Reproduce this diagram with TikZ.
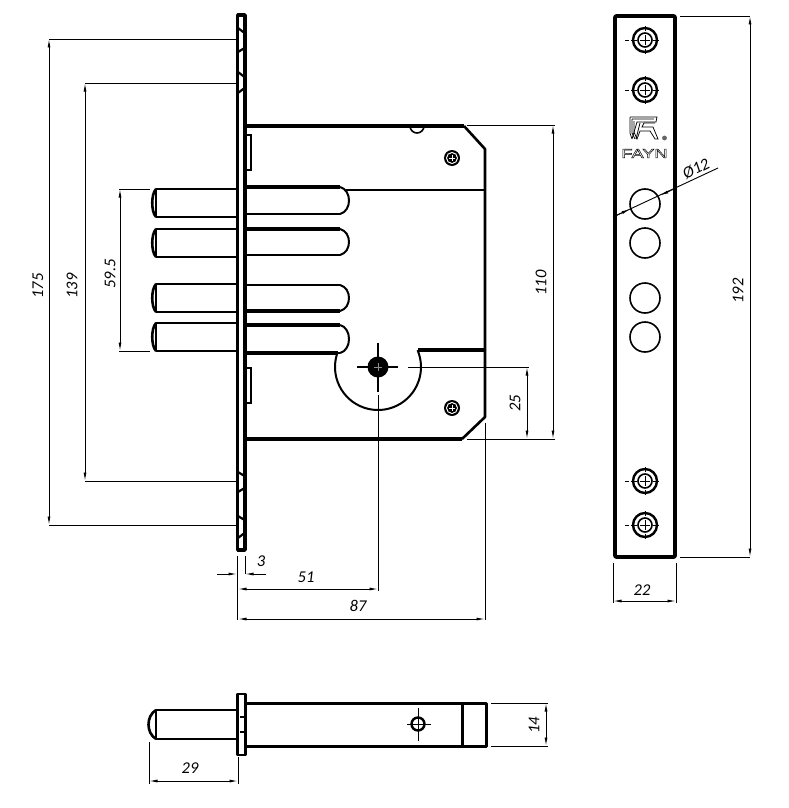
\documentclass[tikz,border=0pt]{standalone}
\usepackage{fontspec}
\setmainfont{Carlito}
\newfontfamily\brandfont[FakeStretch=1.4]{Liberation Sans}
\usetikzlibrary{arrows.meta}

\tikzstyle{heavy}=[line width=3.6pt, line join=round]
\tikzstyle{medium}=[line width=2.6pt, line join=round]
\tikzstyle{light}=[line width=1.6pt]
\tikzstyle{thinline}=[line width=0.9pt]
\tikzstyle{dim}=[thinline, <->]
\tikzstyle{value}=[font=\fontsize{16.5}{18}\selectfont\itshape, inner sep=0pt]

\begin{document}
\begin{tikzpicture}[x=1pt,y=-1pt,>={Latex[length=8.5pt,width=3pt]}]
\useasboundingbox (0,0) rectangle (788,808);

% Faceplate, side view
\draw[medium, line width=3.4pt] (237.7,15) rectangle (245,550);
\foreach \a/\b/\c/\d in {28/33/48/52, 72/77/88/93, 472/476/488/492, 516/520/533/538} {
  \draw[line width=2.2pt] (238,\a) -- (244.5,\b) -- (244.5,\c) -- (238,\d);
}

% Lock case
\draw[heavy] (246,126) -- (464,126);
\draw[medium] (464,126) -- (485,149) -- (485,417) -- (462,439);
\draw[heavy] (462,439) -- (246,439);
\draw[medium] (346,190) -- (485,190);
\draw[heavy] (246,353) -- (338,353);
\draw[heavy] (418,350) -- (485,350);
\draw[light, line width=2pt] (378,367) +(199:43) arc[start angle=199, end angle=-23, radius=43];
\draw[light] (410,126) arc[start angle=180, end angle=0, radius=7];

% Latches
\foreach \a/\b in {135/170, 368/403} {
  \draw[light] (246,\a) -- (251,\a) -- (251,\b) -- (246,\b);
}

% Bolts
\foreach \a/\b/\c/\d in {189/217/187/214, 229/257/229/255, 284/312/285/311, 323/351/325/353} {
  \draw[medium] (237,\a) -- (156,\a) -- (156,\b) -- (237,\b);
  \draw[medium] (156,\a) .. controls (151,\a+5) and (151,\b-5) .. (156,\b);
  \draw[medium] (246,\c) -- (340,\c);
  \draw[medium] (246,\d) -- (340,\d);
  \draw[light, line width=2pt] (340,\c) .. controls (352,\c+3) and (352,\d-3) .. (340,\d);
}
\draw[heavy] (246,187) -- (340,187);
\draw[heavy] (246,229) -- (340,229);
\draw[heavy] (246,311) -- (340,311);
\draw[heavy] (246,325) -- (340,325);

% Case screws
\foreach \x/\y in {452/158, 452/408} {
  \fill[black] (\x,\y) circle (8);
  \draw[white, line width=1pt] (\x,\y) circle (5.5);
  \fill[black] (\x,\y) circle (4.5);
  \draw[white, line width=0.7pt] (\x-3,\y) -- (\x+3,\y) (\x,\y-3) -- (\x,\y+3);
}

% Cylinder hole
\fill[black] (378,367) circle (10.5);
\draw[medium, line width=1.8pt] (357,367) -- (398,367);
\draw[medium, line width=1.8pt] (378,343) -- (378,392);
\draw[black!45, line width=0.7pt] (374,367) -- (382,367) (378,363) -- (378,371);

% Front plate
\draw[heavy, rounded corners=1pt] (615,16) rectangle (675,557);
\foreach \y in {40, 90, 481, 525} {
  \draw[line width=2.4pt] (645,\y) circle (12);
  \draw[line width=1.6pt] (645,\y) circle (7);
  \draw[line width=0.7pt] (640,\y) -- (650,\y) (645,\y-5) -- (645,\y+5);
  \draw[line width=0.8pt] (625,\y) -- (629,\y) (631,\y) -- (637,\y) (653,\y) -- (659,\y) (645,\y-14) -- (645,\y-9) (645,\y+9) -- (645,\y+14);
}
\foreach \y in {204, 243, 298, 337} {
  \draw[light] (645,\y) circle (15);
}

% Logo
\begin{scope}[line width=0.75pt]
  \draw (630,117) -- (657,117) -- (656,122) -- (637,122) -- (632,139) (630,117) -- (630,133) -- (632,139);
  \draw (632,119) -- (654,119) (632,119) -- (632,133) -- (635,139);
  \draw (634,121) -- (634,132) -- (637,139) -- (640,131) -- (650,131) -- (655,139) -- (658,139) -- (653,127) -- (642,127) -- (644,123) -- (655,123);
  \draw (640,123) -- (636,139);
\end{scope}
\fill[black!60] (664.5,138) circle (2.4);
\node[inner sep=0pt, font=\brandfont\fontsize{13}{14}\selectfont] (brand) at (644.5,153.5) {\special{pdf:code 1 Tr 0.5 w}FAYN\special{pdf:code 0 Tr}};

% Lock, bottom view
\draw[medium] (237.5,694) rectangle (245.5,755);
\draw[medium, line width=3pt] (247,703.5) -- (486,703.5) -- (486,746) -- (247,746);
\draw[medium, line width=3pt] (462,703.5) -- (462,746);
\draw[medium] (237,710) -- (156,710) -- (156,739) -- (237,739);
\draw[medium] (156,710) .. controls (146,716) and (146,733) .. (156,739);
\draw[light] (240,717) -- (245,717) -- (245,732) -- (240,732);
\draw[line width=2.4pt] (418,724) circle (6.5);
\draw[line width=0.7pt] (407,724) -- (431,724) (418,708) -- (418,741);

% Extension lines
\foreach \x/\y/\xx in {49/39/236, 49/525/236, 85/83/236, 85/481/236, 119/189/150, 119/351/150,
  467/125/555, 467/439/555, 408/367/529, 680/16/750, 680/557/750, 491/703/548, 491/746/548} {
  \draw[thinline] (\x,\y) -- (\xx,\y);
}
\foreach \x/\y/\yy in {237/556/620, 245/556/574, 378/395/591, 485/423/620, 613/563/603, 676/563/603,
  149/742/784, 238/757/784} {
  \draw[thinline] (\x,\y) -- (\x,\yy);
}

% Dimensions
\draw[dim] (49,39) -- (49,525);
\draw[dim] (85,83) -- (85,481);
\draw[dim] (120,189) -- (120,351);
\draw[dim] (553,125) -- (553,439);
\draw[dim] (527,367) -- (527,439);
\draw[dim] (750,16) -- (750,557);
\draw[dim] (238,589) -- (378,589);
\draw[dim] (238,619) -- (485,619);
\draw[dim] (613,601) -- (676,601);
\draw[dim] (149,781) -- (238,781);
\draw[dim] (546,703) -- (546,746);
\draw[thinline, ->] (217,574) -- (237,574);
\draw[thinline, ->] (266,574) -- (245,574);
\draw[thinline] (613,217) -- (718,168);
\draw[thinline, ->] (613,217) -- (630,209);
\draw[thinline, ->] (676,188) -- (660,195.5);

% Dimension values
\foreach \x/\y/\t in {38/286/175, 72/286/139, 110/274/59.5, 541/283/110, 515/403/25, 738/291/192, 534/725/14} {
  \node[value, rotate=90] at (\x,\y) {\t};
}
\foreach \x/\y/\t in {261/561/3, 306/577/51, 358/606/87, 642/590/22, 190/768/29} {
  \node[value] at (\x,\y) {\t};
}
\node[value, rotate=26] at (696,169) {Ø12};

\end{tikzpicture}
\end{document}
